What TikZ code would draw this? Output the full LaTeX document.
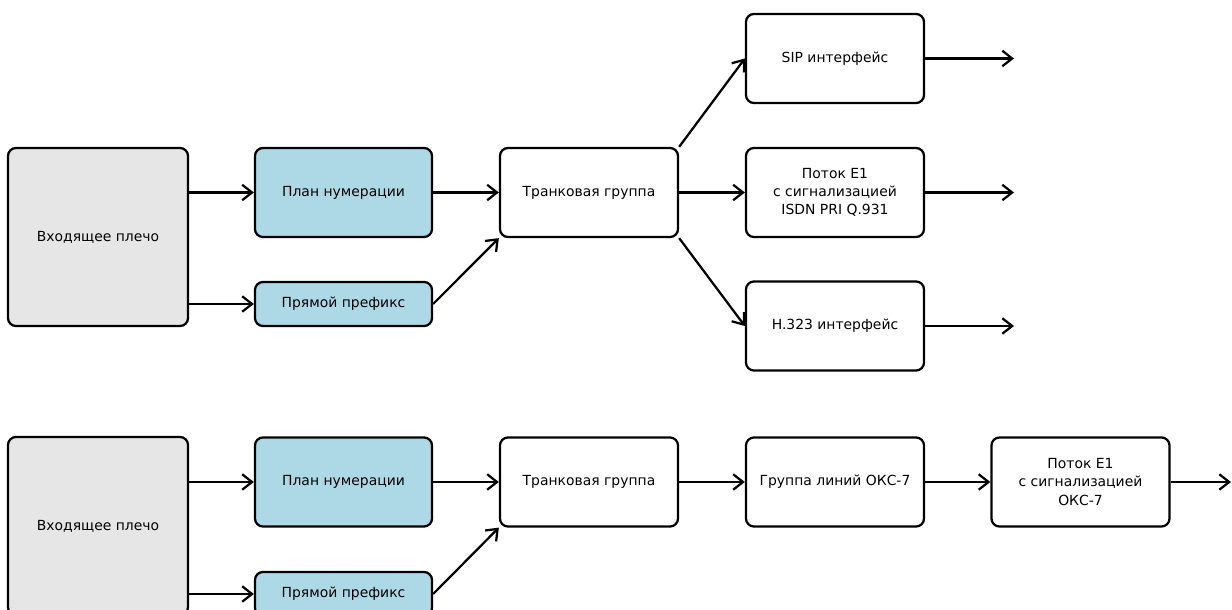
\documentclass[tikz,border=0pt]{standalone}
\usepackage{fontspec}
\setmainfont{DejaVu Sans}
\usetikzlibrary{arrows.meta}
\definecolor{leggray}{HTML}{E6E6E6}
\definecolor{planblue}{HTML}{ADD8E6}
\begin{document}
\begin{tikzpicture}[>={Straight Barb[length=7pt,width=11pt]}, x=0.025cm, y=-0.025cm, line width=1.6pt,
  box/.style={draw, rounded corners=0.2cm, align=center, inner sep=0pt,
    minimum width=4.45cm, minimum height=2.225cm, font=\fontsize{9.9}{13}\selectfont},
  leg/.style={box, fill=leggray, minimum width=4.5cm, minimum height=4.45cm},
  plan/.style={box, fill=planblue, minimum width=4.425cm}]
\useasboundingbox (0,0) rectangle (1232,610);
\clip (0,0) rectangle (1232,610);
% upper scheme
\node[leg] (in1) at (98,237) {Входящее плечо};
\node[plan] (plan1) at (343.5,192.5) {План нумерации};
\node[plan, minimum height=1.1cm] (pref1) at (343.5,304) {Прямой префикс};
\node[box] (trunk1) at (589,192.5) {Транковая группа};
\node[box] (sip) at (835,58.5) {SIP интерфейс};
\node[box] (e1) at (835,192.5) {Поток E1\\с сигнализацией\\ISDN PRI Q.931};
\node[box] (h323) at (835,326) {H.323 интерфейс};
\draw[->] (in1.east |- plan1.west) -- (plan1.west);
\draw[->] (in1.east |- pref1.west) -- (pref1.west);
\draw[->] (plan1.east) -- (trunk1.west);
\draw[->] (pref1.east) -- (trunk1.south west);
\draw[->] (trunk1.north east) -- (sip.west);
\draw[->] (trunk1.east) -- (e1.west);
\draw[->] (trunk1.south east) -- (h323.west);
\foreach \n/\y in {sip/58.5,e1/192.5,h323/326}
{
    \coordinate (\n out) at (1014,\y);
    \draw[->] (\n.east) -- (\n out);
}
% lower scheme
\node[leg] (in2) at (98,526) {Входящее плечо};
\node[plan] (plan2) at (343.5,482) {План нумерации};
\node[plan, minimum height=1.1cm] (pref2) at (343.5,594) {Прямой префикс};
\node[box] (trunk2) at (589,482) {Транковая группа};
\node[box] (ss7) at (835,482) {Группа линий ОКС-7};
\node[box] (e1b) at (1080.5,482) {Поток E1\\с сигнализацией\\ОКС-7};
\coordinate (e1b out) at (1231,482);
\draw[->] (in2.east |- plan2.west) -- (plan2.west);
\draw[->] (in2.east |- pref2.west) -- (pref2.west);
\draw[->] (plan2.east) -- (trunk2.west);
\draw[->] (pref2.east) -- (trunk2.south west);
\draw[->] (trunk2.east) -- (ss7.west);
\draw[->] (ss7.east) -- (e1b.west);
\draw[->] (e1b.east) -- (e1b out);
\end{tikzpicture}
\end{document}
